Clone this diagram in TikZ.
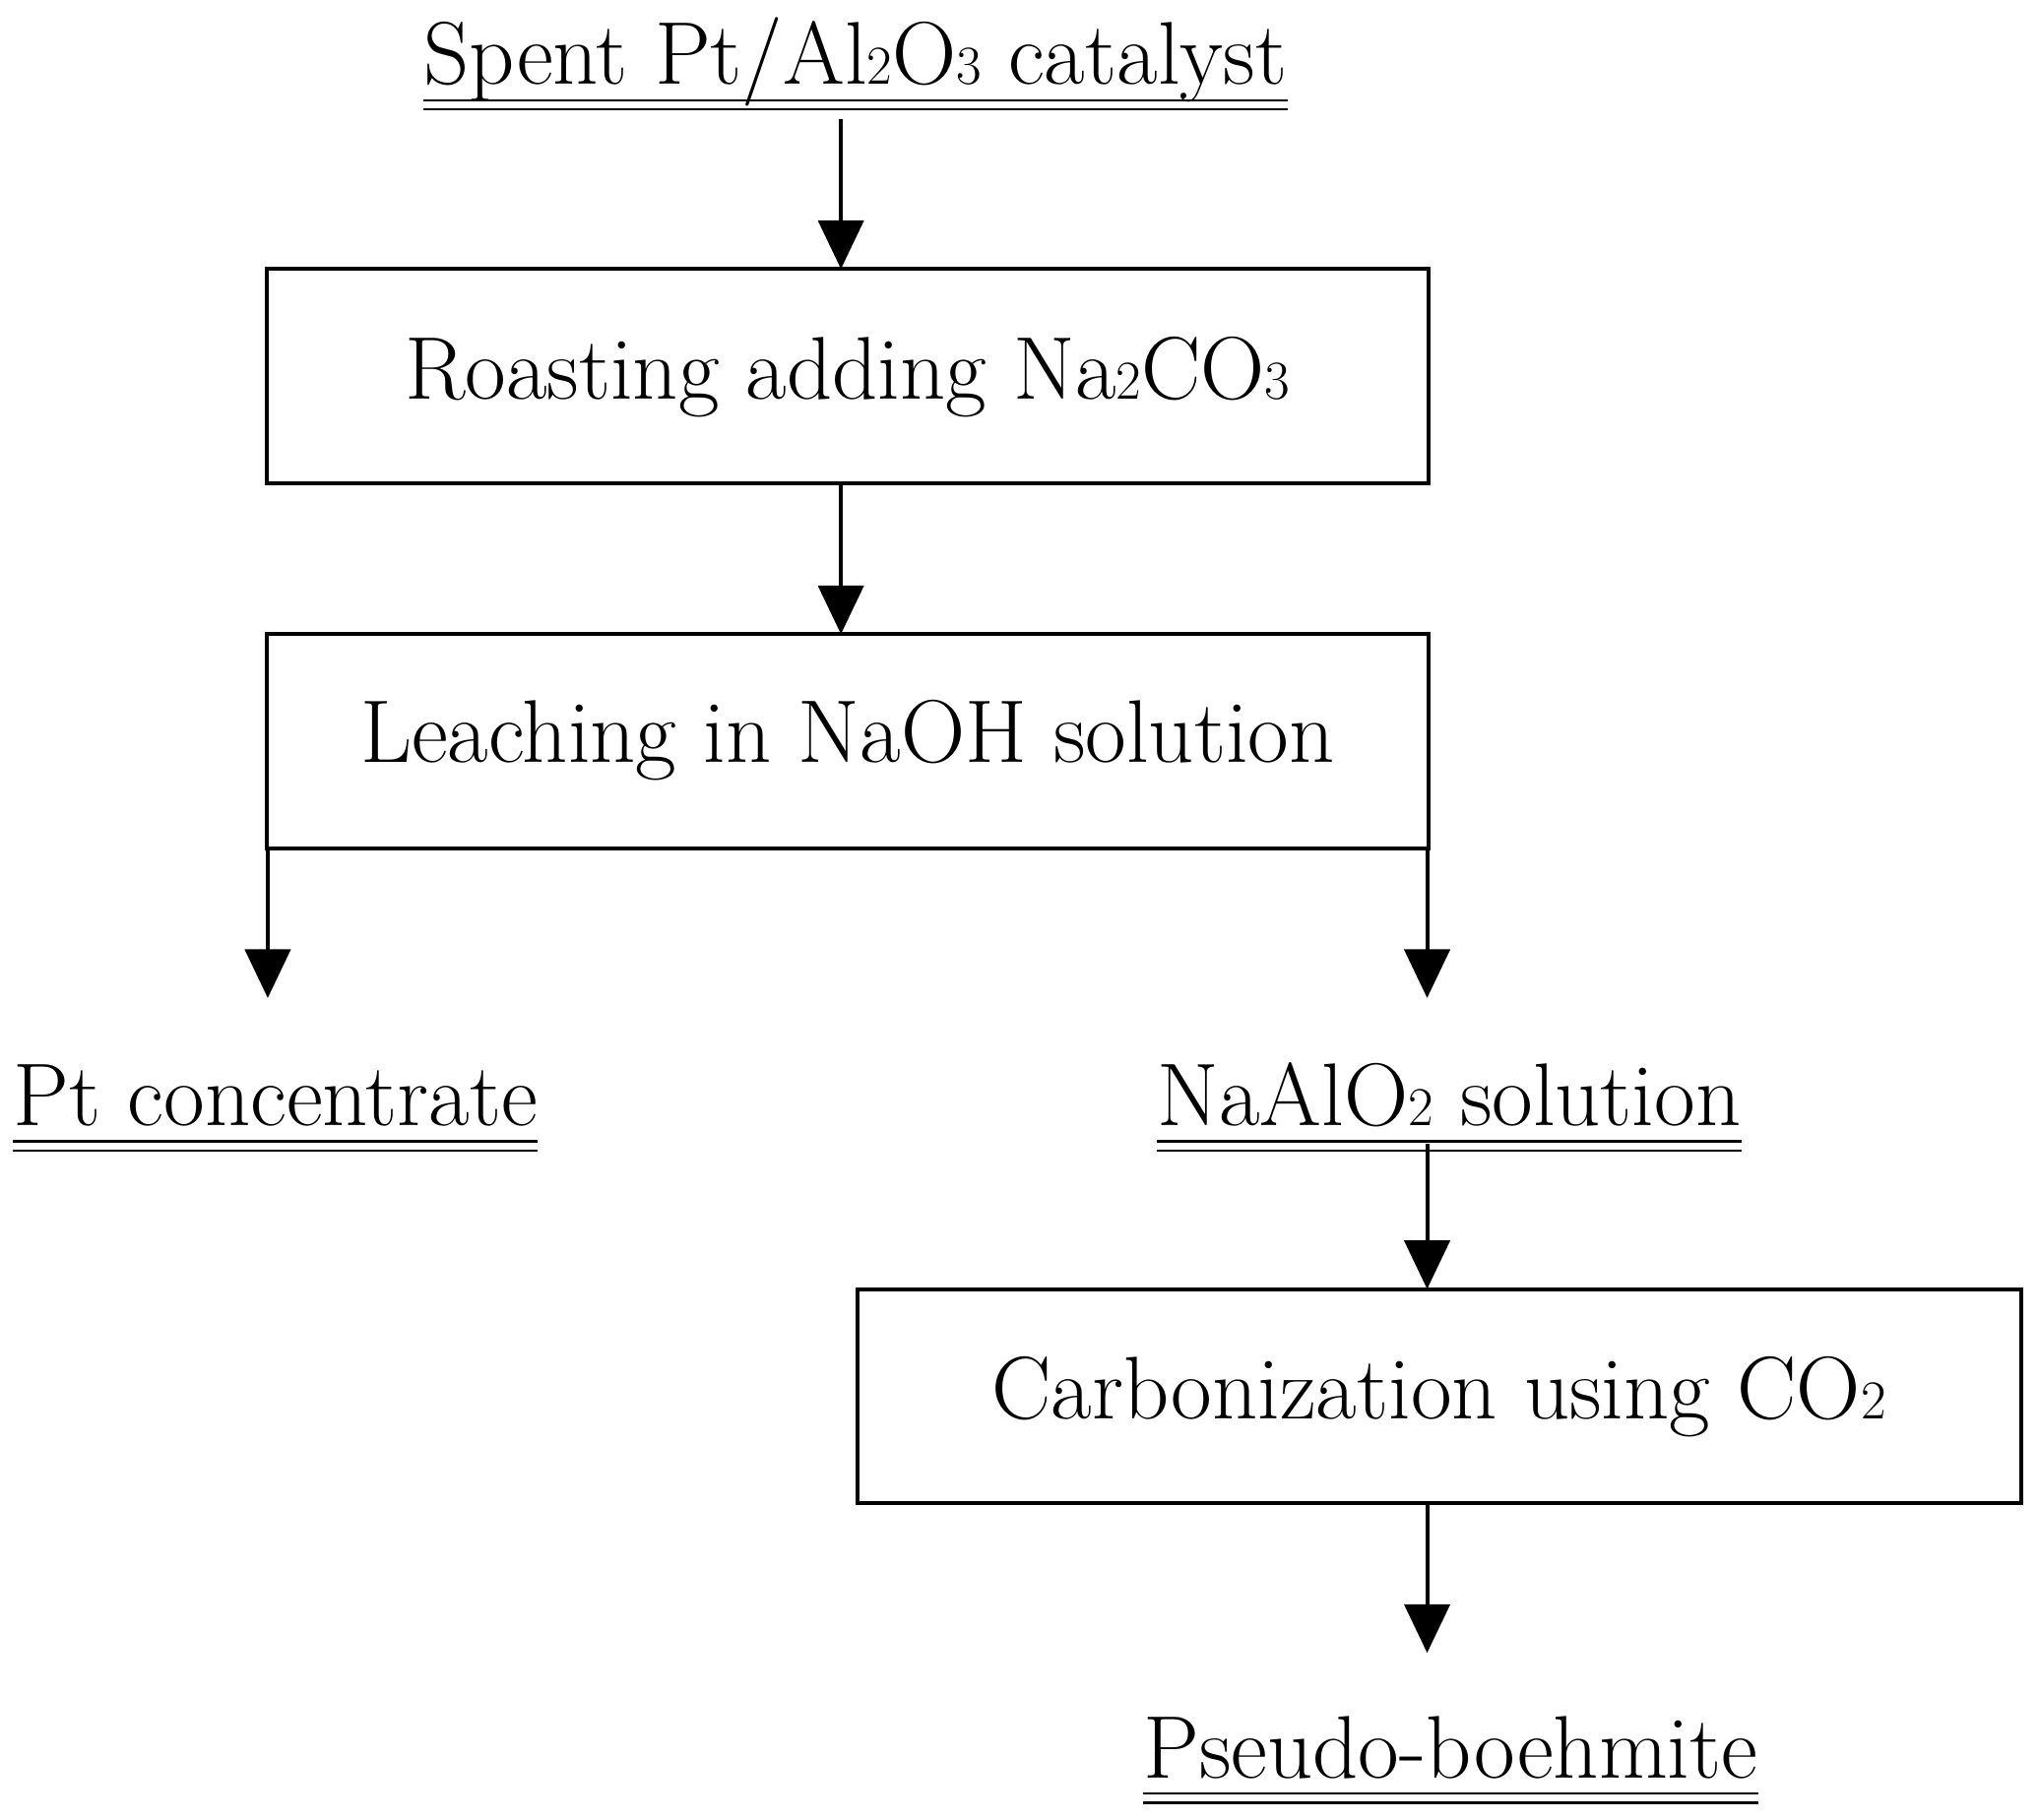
\documentclass[tikz,border=0pt]{standalone}
\usetikzlibrary{arrows.meta}
\newcommand{\sbs}[1]{{\fontsize{24}{24}\selectfont #1}}
\begin{document}
\begin{tikzpicture}[x=0.02cm,y=-0.02cm,
  box/.style={draw,line width=1.7pt},
  lbl/.style={inner sep=0pt,font=\fontsize{39}{44}\selectfont},
  arr/.style={line width=1.7pt,-{Triangle[width=0.7cm,length=0.75cm]}},
  ul/.style={line width=0.9pt}]
\useasboundingbox (0,0) rectangle (1568,1400);
\node[lbl,anchor=base] (t) at (658,65) {Spent Pt/Al\sbs{2}O\sbs{3} catalyst};
\draw[ul] ([yshift=-7pt]t.base west) -- ([yshift=-7pt]t.base east);
\draw[ul] ([yshift=-11pt]t.base west) -- ([yshift=-11pt]t.base east);
\draw[box] (205,207) rectangle (1099,372);
\node[lbl] (b1) at (652,290) {Roasting adding Na\sbs{2}CO\sbs{3}};
\draw[box] (205,488) rectangle (1099,653);
\node[lbl] (b2) at (652,570) {Leaching in NaOH solution};
\draw[box] (660,992) rectangle (1555,1157);
\node[lbl] (b3) at (1107,1075) {Carbonization using CO\sbs{2}};
\node[lbl,anchor=base] (pc) at (212,866) {Pt concentrate};
\draw[ul] ([yshift=-7pt]pc.base west) -- ([yshift=-7pt]pc.base east);
\draw[ul] ([yshift=-11pt]pc.base west) -- ([yshift=-11pt]pc.base east);
\node[lbl,anchor=base] (na) at (1115,866) {NaAlO\sbs{2} solution};
\draw[ul] ([yshift=-7pt]na.base west) -- ([yshift=-7pt]na.base east);
\draw[ul] ([yshift=-11pt]na.base west) -- ([yshift=-11pt]na.base east);
\node[lbl,anchor=base] (pb) at (1116,1368) {Pseudo-boehmite};
\draw[ul] ([yshift=-7pt]pb.base west) -- ([yshift=-7pt]pb.base east);
\draw[ul] ([yshift=-11pt]pb.base west) -- ([yshift=-11pt]pb.base east);
\coordinate (a0) at (647,92); \coordinate (a1) at (647,207);
\coordinate (a2) at (647,372); \coordinate (a3) at (647,488);
\coordinate (l0) at (206,653); \coordinate (l1) at (206,768);
\coordinate (r0) at (1098,653); \coordinate (r1) at (1098,768);
\coordinate (n0) at (1098,880); \coordinate (n1) at (1098,992);
\coordinate (c0) at (1098,1157); \coordinate (c1) at (1098,1272);
\draw[arr] (a0) -- (a1);
\draw[arr] (a2) -- (a3);
\draw[arr] (l0) -- (l1);
\draw[arr] (r0) -- (r1);
\draw[arr] (n0) -- (n1);
\draw[arr] (c0) -- (c1);
\end{tikzpicture}
\end{document}
